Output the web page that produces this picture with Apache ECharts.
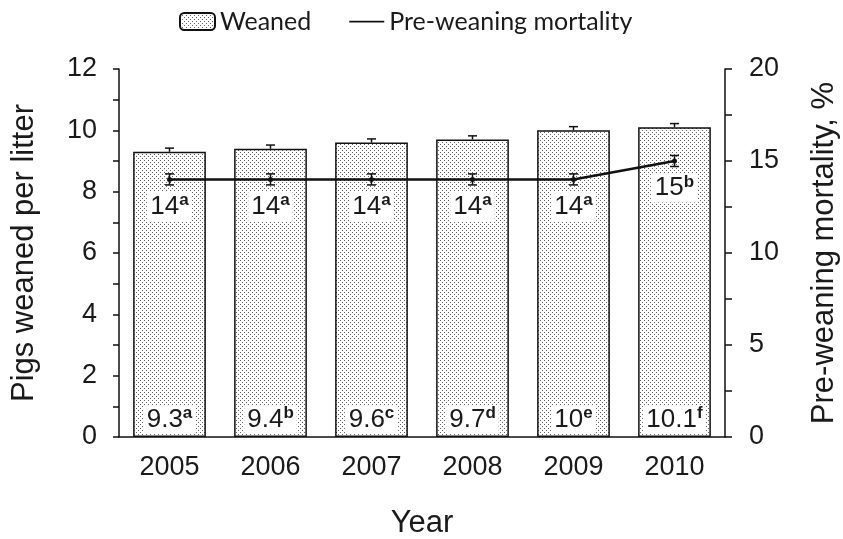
<!DOCTYPE html>
<html><head><meta charset="utf-8">
<script src="https://cdn.jsdelivr.net/npm/echarts@6/dist/echarts.min.js"></script>
<style>html,body{margin:0;padding:0;background:#fff}#c{width:843px;height:539px}</style>
</head><body><div id="c"></div>
<script>
var years = ['2005','2006','2007','2008','2009','2010'];
var weaned = [9.3, 9.4, 9.6, 9.7, 10, 10.1];
var weanedErr = [0.12, 0.12, 0.12, 0.12, 0.12, 0.12];
var weanedSup = ['a','b','c','d','e','f'];
var mortality = [14, 14, 14, 14, 14, 15];
var mortalityErr = [0.3, 0.3, 0.3, 0.3, 0.3, 0.3];
var mortalitySup = ['a','a','a','a','a','b'];

var cv = document.createElement('canvas');
cv.width = 4; cv.height = 4;
var cx = cv.getContext('2d');
cx.fillStyle = '#fff'; cx.fillRect(0,0,4,4);
cx.fillStyle = '#666';
cx.fillRect(0,0,1,1); cx.fillRect(2,2,1,1);

var textColor = '#1a1a1a';
var axisFont = "'Liberation Sans', Arial, sans-serif";
var richLab = {
  v: {fontSize: 26, color: textColor, fontFamily: axisFont},
  s: {fontSize: 17, fontWeight: 'bold', color: textColor, fontFamily: axisFont, padding: [0,0,12,0]}
};

function errRender(values, errs, upperOnly) {
  return function (params, api) {
    var i = api.value(0);
    var v = values[i], e = errs[i];
    var top = api.coord([i, v + e]);
    var bot = api.coord([i, upperOnly ? v : v - e]);
    var hw = 4.5;
    var st = {stroke: '#111', lineWidth: 1.5};
    var ch = [
      {type: 'line', shape: {x1: top[0], y1: top[1], x2: bot[0], y2: bot[1]}, style: st},
      {type: 'line', shape: {x1: top[0]-hw, y1: top[1], x2: top[0]+hw, y2: top[1]}, style: st}
    ];
    if (!upperOnly) ch.push({type: 'line', shape: {x1: bot[0]-hw, y1: bot[1], x2: bot[0]+hw, y2: bot[1]}, style: st});
    return {type: 'group', children: ch};
  };
}

var chart = echarts.init(document.getElementById('c'));
chart.setOption({
  animation: false,
  legend: {
    top: 4, left: 174, itemGap: 38, itemWidth: 35, itemHeight: 17,
    textStyle: {fontSize: 25, color: textColor, fontFamily: 'Lato, sans-serif'},
    data: [{name: 'Weaned'}, {name: 'Pre-weaning mortality', icon: 'path://M0,0 L40,0 L40,2 L0,2 Z'}]
  },
  grid: {left: 119, right: 118, top: 69, bottom: 102, outerBoundsMode: 'none', containLabel: false},
  xAxis: {
    type: 'category', data: years,
    name: 'Year', nameLocation: 'middle', nameGap: 71,
    nameTextStyle: {fontSize: 31, color: textColor, fontFamily: axisFont},
    axisLine: {lineStyle: {color: '#111', width: 1.5}},
    axisTick: {interval: 0, length: 8, lineStyle: {color: '#111', width: 1.5}},
    axisLabel: {fontSize: 27, color: textColor, fontFamily: axisFont, margin: 17}
  },
  yAxis: [{
    type: 'value', min: 0, max: 12, interval: 2,
    name: 'Pigs weaned per litter', nameLocation: 'middle', nameGap: 79, nameRotate: 90,
    nameTextStyle: {fontSize: 31, color: textColor, fontFamily: axisFont},
    axisLine: {show: true, lineStyle: {color: '#111', width: 1.5}},
    axisTick: {show: true, length: 6, lineStyle: {color: '#111', width: 1.5}},
    minorTick: {show: true, splitNumber: 2, length: 6, lineStyle: {color: '#111', width: 1.5}},
    splitLine: {show: false},
    axisLabel: {fontSize: 27, color: textColor, fontFamily: axisFont, margin: 22}
  }, {
    type: 'value', min: 0, max: 20, interval: 5, position: 'right',
    name: 'Pre-weaning mortality, %', nameLocation: 'middle', nameGap: 84, nameRotate: 90,
    nameTextStyle: {fontSize: 31, color: textColor, fontFamily: axisFont},
    axisLine: {show: true, lineStyle: {color: '#111', width: 1.5}},
    axisTick: {show: true, length: 7, lineStyle: {color: '#111', width: 1.5}},
    minorTick: {show: true, splitNumber: 2, length: 7, lineStyle: {color: '#111', width: 1.5}},
    splitLine: {show: false},
    axisLabel: {fontSize: 27, color: textColor, fontFamily: axisFont, margin: 24}
  }],
  series: [{
    name: 'Weaned', type: 'bar', data: weaned, barWidth: '72%', yAxisIndex: 0,
    itemStyle: {color: {image: cv, repeat: 'repeat'}, borderColor: '#111', borderWidth: 1.5},
    label: {
      show: true, position: 'insideBottom', distance: 3,
      backgroundColor: '#fff', padding: [0, 3, 0, 3],
      formatter: function (p) { return '{v|' + weaned[p.dataIndex] + '}{s|' + weanedSup[p.dataIndex] + '}'; },
      rich: richLab
    },
    z: 2
  }, {
    name: 'WeanedErr', type: 'custom', data: years.map(function (y, i) { return [i, weaned[i]]; }),
    yAxisIndex: 0, renderItem: errRender(weaned, weanedErr, true), z: 3, silent: true
  }, {
    name: 'Pre-weaning mortality', type: 'line', data: mortality, yAxisIndex: 1,
    lineStyle: {color: '#111', width: 2.5}, itemStyle: {color: '#111'},
    symbol: 'circle', symbolSize: 5,
    label: {
      show: true, position: 'bottom', distance: 10,
      backgroundColor: '#fff', padding: [0, 3, 0, 3],
      formatter: function (p) { return '{v|' + mortality[p.dataIndex] + '}{s|' + mortalitySup[p.dataIndex] + '}'; },
      rich: richLab
    },
    z: 4
  }, {
    name: 'MortErr', type: 'custom', data: years.map(function (y, i) { return [i, mortality[i]]; }),
    yAxisIndex: 1, renderItem: errRender(mortality, mortalityErr, false), z: 5, silent: true
  }]
});
</script></body></html>
